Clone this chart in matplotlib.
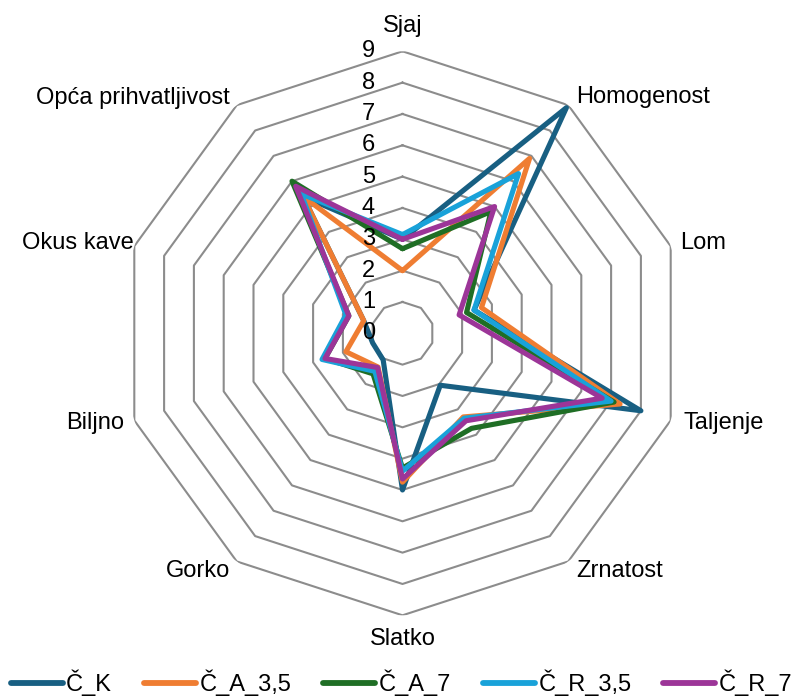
import matplotlib.pyplot as plt
import numpy as np

plt.rcParams['font.family'] = ['Liberation Sans', 'DejaVu Sans']

categories = ['Sjaj', 'Homogenost', 'Lom', 'Taljenje', 'Zrnatost', 'Slatko',
              'Gorko', 'Biljno', 'Okus kave', 'Opća prihvatljivost']
series_names = ['Č_K', 'Č_A_3,5', 'Č_A_7', 'Č_R_3,5', 'Č_R_7']
c_k = [3.0, 8.9, 2.4, 8.0, 2.05, 5.0, 1.05, 1.0, 1.3, 5.4]
c_a_35 = [2.0, 6.9, 2.65, 7.3, 3.3, 4.75, 1.33, 1.9, 1.3, 5.4]
c_a_7 = [2.7, 4.8, 2.15, 7.1, 3.75, 4.3, 1.6, 2.6, 1.8, 6.0]
c_r_35 = [3.15, 6.3, 2.4, 7.0, 3.35, 4.4, 1.5, 2.7, 1.9, 5.5]
c_r_7 = [3.0, 5.0, 1.9, 6.7, 3.45, 4.65, 1.35, 2.6, 1.8, 5.8]
rings = [1, 2, 3, 4, 5, 6, 7, 8, 9]
tick_labels = ['0', '1', '2', '3', '4', '5', '6', '7', '8', '9']

colors = ['#185f82', '#ef7d32', '#1f6e25', '#19a2d9', '#9c3598']

n = len(categories)
theta = np.arange(n) * 2 * np.pi / n
theta_c = np.append(theta, theta[0])

fig = plt.figure(figsize=(8.03, 6.97), dpi=100)
R = 282
ax = fig.add_axes([(402.5 - R) / 803, (697 - 333.3 - R) / 697, 2 * R / 803, 2 * R / 697],
                  projection='polar')
ax.set_theta_offset(np.pi / 2)
ax.set_theta_direction(-1)
ax.set_ylim(0, 9)
ax.grid(False)
ax.set_xticks([])
ax.set_yticks([])
ax.spines['polar'].set_visible(False)
ax.patch.set_alpha(0)

# decagon grid
for r in rings:
    ax.plot(theta_c, [r] * (n + 1), color='#8c8c8c', lw=1.5, zorder=1)

data = [c_k, c_a_35, c_a_7, c_r_35, c_r_7]
for name, vals, col in zip(series_names, data, colors):
    v = np.append(vals, vals[0])
    ax.plot(theta_c, v, color=col, lw=3.7, label=name, zorder=3,
            solid_joinstyle='round', solid_capstyle='round')

# value labels along the top axis
for i, lab in enumerate(tick_labels):
    ax.annotate(lab, xy=(0, i), xytext=(-34, 0), textcoords='offset pixels',
                ha='center', va='center', fontsize=17, zorder=5)

# category labels
offsets = [(0, 14, 'center', 'bottom'), (8, 8, 'left', 'center'),
           (9, 3, 'left', 'center'), (13, -3, 'left', 'center'),
           (8, -10, 'left', 'center'), (0, -13, 'center', 'top'),
           (-7, -10, 'right', 'center'), (-10, -3, 'right', 'center'),
           (-1, 3, 'right', 'center'), (-7, 7, 'right', 'center')]
for t, cat, (dx, dy, ha, va) in zip(theta, categories, offsets):
    ax.annotate(cat, xy=(t, 9), xytext=(dx, dy), textcoords='offset pixels',
                ha=ha, va=va, fontsize=17)

leg = fig.legend(loc='center', bbox_to_anchor=(0.5, 1 - 683 / 697), ncol=5,
                 frameon=False, fontsize=17, handlelength=2.2, handletextpad=0.15,
                 columnspacing=1.35, borderaxespad=0)
for h in leg.get_lines():
    h.set_linewidth(4.2)
    h.set_solid_capstyle('round')

fig.savefig('out.png', dpi=100)
